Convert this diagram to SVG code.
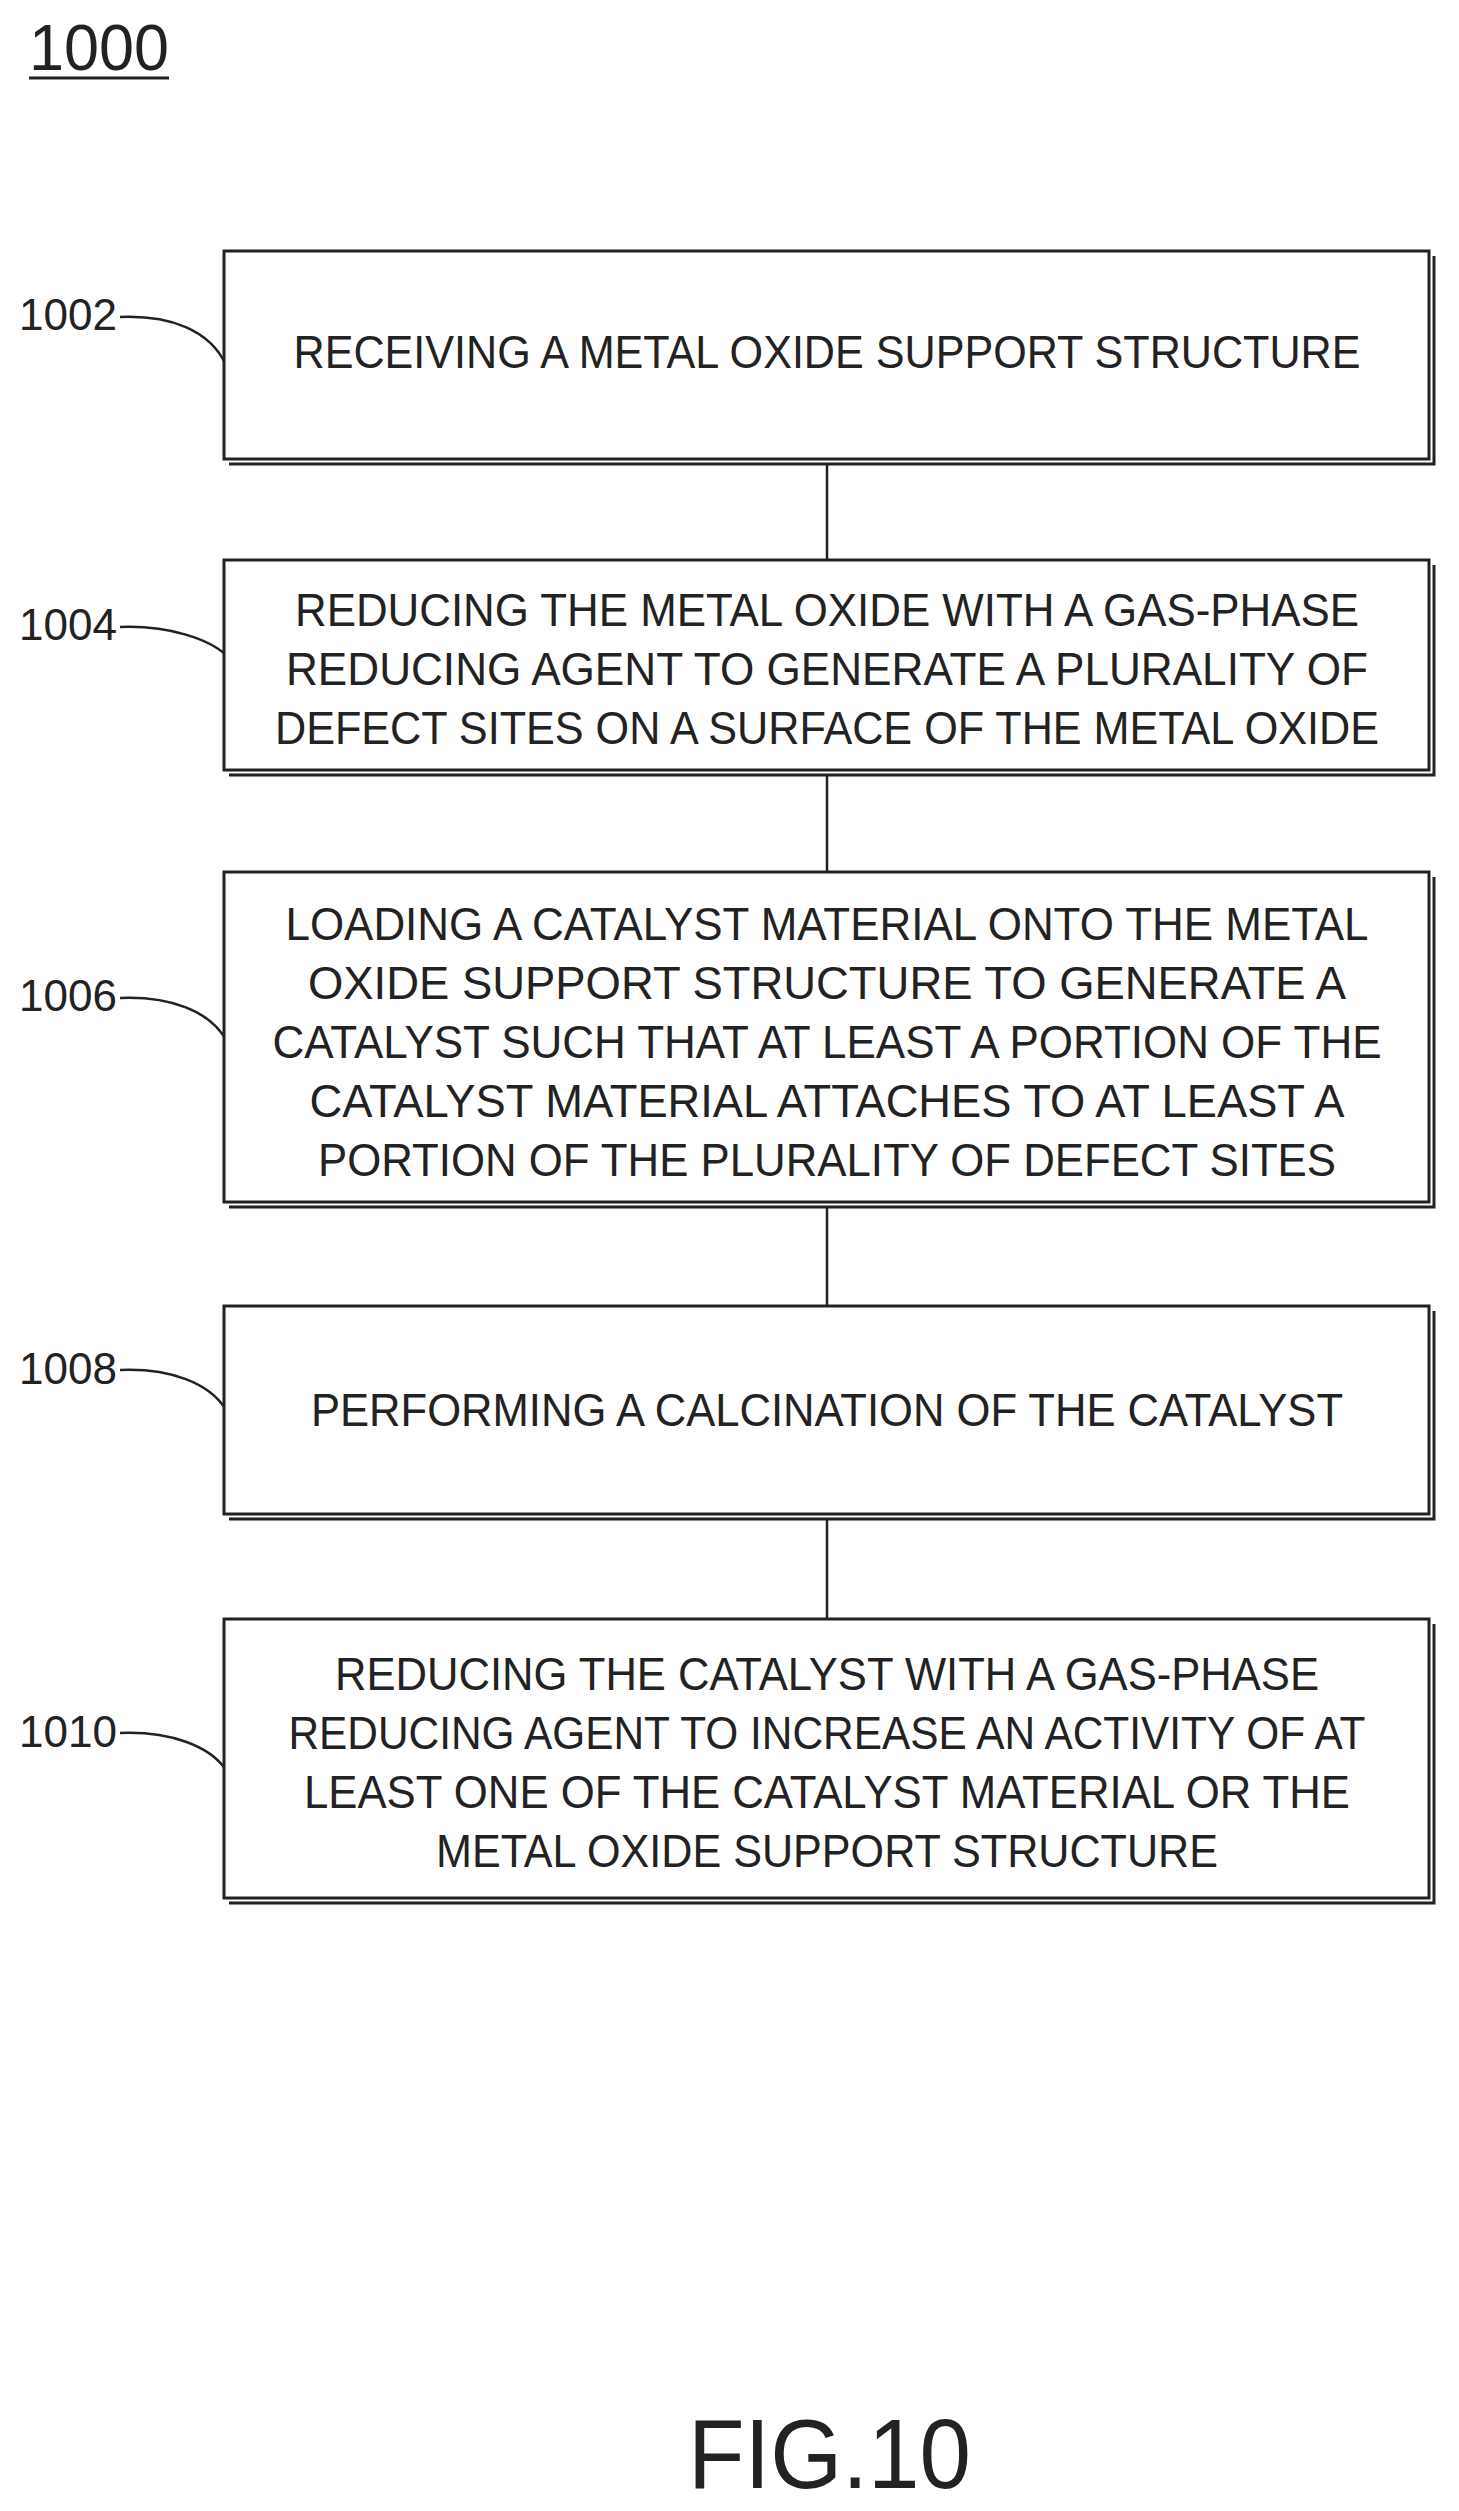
<svg xmlns="http://www.w3.org/2000/svg" width="1459" height="2511" viewBox="0 0 1459 2511">
<style>
.b{fill:#fff;stroke:#222;stroke-width:3}
.s{fill:none;stroke:#222;stroke-width:3}
.t{font-family:"Liberation Sans",Arial,sans-serif;font-size:46px;fill:#222;text-anchor:middle}
.l{font-family:"Liberation Sans",Arial,sans-serif;font-size:44px;fill:#222}
.c{fill:none;stroke:#222;stroke-width:2.5}
</style>
<rect width="1459" height="2511" fill="#fff"/>
<g id="title"><text x="29" y="70" class="l" style="font-size:64px" textLength="140" lengthAdjust="spacingAndGlyphs">1000</text><line x1="29" y1="78" x2="169" y2="78" class="s"/></g>
<g id="connectors">
<line x1="827" y1="464" x2="827" y2="560" class="c"/>
<line x1="827" y1="775" x2="827" y2="872" class="c"/>
<line x1="827" y1="1207" x2="827" y2="1306" class="c"/>
<line x1="827" y1="1519" x2="827" y2="1619" class="c"/>
<path class="c" d="M120 317 C170 315 210 330 226 365"/>
<path class="c" d="M120 627 C170 625 210 640 226 655"/>
<path class="c" d="M120 998 C170 996 210 1011 226 1040"/>
<path class="c" d="M120 1370 C170 1368 210 1383 226 1410"/>
<path class="c" d="M120 1733 C170 1731 210 1746 226 1770"/>
</g>
<g id="n1002"><path class="s" d="M229 464 H1434 V256"/><rect class="b" x="224" y="251" width="1205" height="208"/>
<text x="827" y="368" class="t" textLength="1067" lengthAdjust="spacingAndGlyphs">RECEIVING A METAL OXIDE SUPPORT STRUCTURE</text>
<text x="19" y="330" class="l" textLength="98" lengthAdjust="spacingAndGlyphs">1002</text></g>
<g id="n1004"><path class="s" d="M229 775 H1434 V565"/><rect class="b" x="224" y="560" width="1205" height="210"/>
<text x="827" y="626" class="t" textLength="1064" lengthAdjust="spacingAndGlyphs">REDUCING THE METAL OXIDE WITH A GAS-PHASE</text>
<text x="827" y="685" class="t" textLength="1082" lengthAdjust="spacingAndGlyphs">REDUCING AGENT TO GENERATE A PLURALITY OF</text>
<text x="827" y="744" class="t" textLength="1104" lengthAdjust="spacingAndGlyphs">DEFECT SITES ON A SURFACE OF THE METAL OXIDE</text>
<text x="19" y="640" class="l" textLength="98" lengthAdjust="spacingAndGlyphs">1004</text></g>
<g id="n1006"><path class="s" d="M229 1207 H1434 V877"/><rect class="b" x="224" y="872" width="1205" height="330"/>
<text x="827" y="940" class="t" textLength="1083" lengthAdjust="spacingAndGlyphs">LOADING A CATALYST MATERIAL ONTO THE METAL</text>
<text x="827" y="999" class="t" textLength="1038" lengthAdjust="spacingAndGlyphs">OXIDE SUPPORT STRUCTURE TO GENERATE A</text>
<text x="827" y="1058" class="t" textLength="1109" lengthAdjust="spacingAndGlyphs">CATALYST SUCH THAT AT LEAST A PORTION OF THE</text>
<text x="827" y="1117" class="t" textLength="1035" lengthAdjust="spacingAndGlyphs">CATALYST MATERIAL ATTACHES TO AT LEAST A</text>
<text x="827" y="1176" class="t" textLength="1018" lengthAdjust="spacingAndGlyphs">PORTION OF THE PLURALITY OF DEFECT SITES</text>
<text x="19" y="1011" class="l" textLength="98" lengthAdjust="spacingAndGlyphs">1006</text></g>
<g id="n1008"><path class="s" d="M229 1519 H1434 V1311"/><rect class="b" x="224" y="1306" width="1205" height="208"/>
<text x="827" y="1426" class="t" textLength="1032" lengthAdjust="spacingAndGlyphs">PERFORMING A CALCINATION OF THE CATALYST</text>
<text x="19" y="1384" class="l" textLength="98" lengthAdjust="spacingAndGlyphs">1008</text></g>
<g id="n1010"><path class="s" d="M229 1903 H1434 V1624"/><rect class="b" x="224" y="1619" width="1205" height="279"/>
<text x="827" y="1690" class="t" textLength="984" lengthAdjust="spacingAndGlyphs">REDUCING THE CATALYST WITH A GAS-PHASE</text>
<text x="827" y="1749" class="t" textLength="1077" lengthAdjust="spacingAndGlyphs">REDUCING AGENT TO INCREASE AN ACTIVITY OF AT</text>
<text x="827" y="1808" class="t" textLength="1046" lengthAdjust="spacingAndGlyphs">LEAST ONE OF THE CATALYST MATERIAL OR THE</text>
<text x="827" y="1867" class="t" textLength="782" lengthAdjust="spacingAndGlyphs">METAL OXIDE SUPPORT STRUCTURE</text>
<text x="19" y="1747" class="l" textLength="98" lengthAdjust="spacingAndGlyphs">1010</text></g>
<g id="fig"><text x="688" y="2488" class="l" style="font-size:98px" textLength="283" lengthAdjust="spacingAndGlyphs">FIG.10</text></g>
</svg>
